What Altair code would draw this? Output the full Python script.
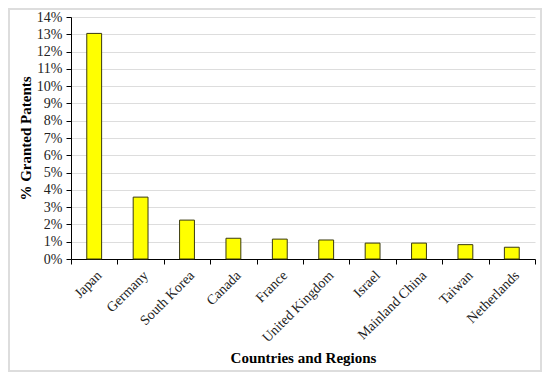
import altair as alt
import pandas as pd

countries = ["Japan", "Germany", "South Korea", "Canada", "France", "United Kingdom",
             "Israel", "Mainland China", "Taiwan", "Netherlands"]
percent = [13.05, 3.58, 2.25, 1.2, 1.15, 1.1, 0.92, 0.92, 0.83, 0.68]

df = pd.DataFrame({"country": countries, "pct": [p / 100 for p in percent]})

FONT = "Liberation Serif"

bars = alt.Chart(df).mark_bar(color="#FFFF00", stroke="#3a3a10", strokeWidth=1,
                              width=alt.RelativeBandSize(0.32)).encode(
    x=alt.X("country:N", sort=countries, title="Countries and Regions",
            scale=alt.Scale(paddingInner=0, paddingOuter=0),
            axis=alt.Axis(labelAngle=-45, labelAlign="right", labelBaseline="top",
                          tickBand="extent", domainColor="black", tickColor="black",
                          labelFontSize=14, labelColor="#222", titleFontSize=15,
                          titleFontWeight="bold", titlePadding=6, labelPadding=4,
                          tickSize=5)),
    y=alt.Y("pct:Q", title="% Granted Patents",
            scale=alt.Scale(domain=[0, 0.14]),
            axis=alt.Axis(format=".0%", values=[i / 100 for i in range(15)],
                          domainColor="black", tickColor="black", tickSize=5,
                          gridColor="#dddddd", labelFontSize=14, labelColor="#222",
                          labelPadding=4,
                          titleFontSize=15, titleFontWeight="bold", titlePadding=3)),
)

frame = alt.Chart(df).mark_rect(fill="transparent", stroke="#dddddd", strokeWidth=2).encode(
    x=alt.value(-62), x2=alt.value(470), y=alt.value(-8), y2=alt.value(354)
)

chart = alt.layer(frame, bars).properties(
    width=464, height=242,
    autosize=alt.AutoSizeParams(type="none"),
    padding={"left": 63, "top": 9, "right": 7, "bottom": 113},
).configure_view(stroke=None).configure_axis(labelFont=FONT, titleFont=FONT)

chart.save("out.html", embed_options={"renderer": "svg", "actions": False})
